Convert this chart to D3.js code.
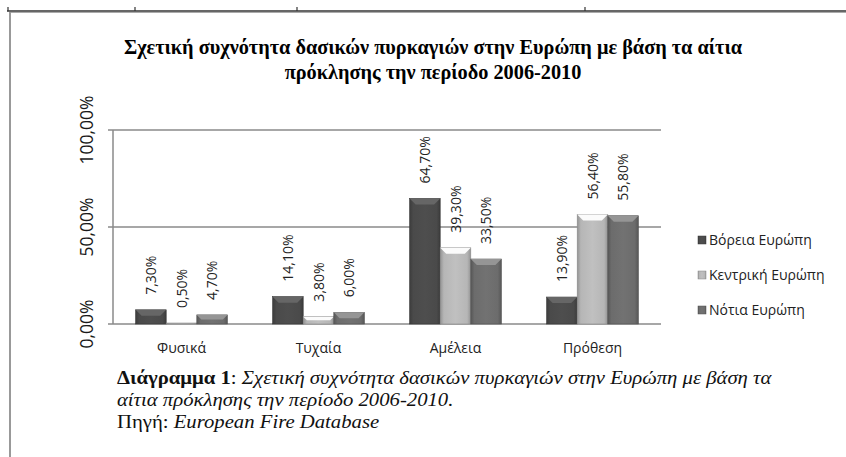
<!DOCTYPE html>
<html><head><meta charset="utf-8">
<script src="https://cdn.jsdelivr.net/npm/d3@7"></script>
<style>body{margin:0;background:#fff}svg{display:block}</style>
</head><body><svg id="c" width="846" height="457"></svg>
<script>
const categories = ["Φυσικά", "Τυχαία", "Αμέλεια", "Πρόθεση"];
const seriesNames = ["Βόρεια Ευρώπη", "Κεντρική Ευρώπη", "Νότια Ευρώπη"];
const northValues = [0.073, 0.141, 0.647, 0.139];
const centralValues = [0.005, 0.038, 0.393, 0.564];
const southValues = [0.047, 0.060, 0.335, 0.558];
const yTicks = [0, 0.5, 1];
const seriesColors = ["#4a4a4a", "#b6b6b6", "#6c6c6c"];

const values = [northValues, centralValues, southValues];
const fmt = v => d3.format(".2f")(v * 100).replace(".", ",") + "%";
const svg = d3.select("#c");

// page frame
svg.append("line").attr("x1", 7).attr("x2", 846).attr("y1", 11).attr("y2", 11).attr("stroke", "#333").attr("stroke-width", 1.5);
svg.append("line").attr("x1", 10).attr("x2", 846).attr("y1", 12.5).attr("y2", 12.5).attr("stroke", "#aaa").attr("stroke-width", 1);
svg.append("line").attr("x1", 10).attr("x2", 10).attr("y1", 12).attr("y2", 457).attr("stroke", "#999").attr("stroke-width", 2);
[8, 135, 297, 585].forEach(x => svg.append("line").attr("x1", x).attr("x2", x).attr("y1", 7).attr("y2", 11).attr("stroke", "#333").attr("stroke-width", 1.2));

// gradients
const defs = svg.append("defs");
seriesColors.forEach((c, i) => {
  const g = defs.append("linearGradient").attr("id", "g" + i).attr("x1", 0).attr("x2", 1).attr("y1", 0).attr("y2", 0);
  const base = d3.color(c);
  g.append("stop").attr("offset", 0).attr("stop-color", base.darker(0.6));
  g.append("stop").attr("offset", 0.12).attr("stop-color", base);
  g.append("stop").attr("offset", 0.5).attr("stop-color", base.brighter(0.15));
  g.append("stop").attr("offset", 0.88).attr("stop-color", base);
  g.append("stop").attr("offset", 1).attr("stop-color", base.darker(0.6));
});

// title
const title = svg.append("text").attr("text-anchor", "middle").attr("font-family", "Liberation Serif, serif").attr("font-weight", "bold").attr("font-size", 20.3).attr("fill", "#000");
title.append("tspan").attr("x", 433).attr("y", 54).text("Σχετική συχνότητα δασικών πυρκαγιών στην Ευρώπη με βάση τα αίτια");
title.append("tspan").attr("x", 433).attr("y", 79).text("πρόκλησης την περίοδο 2006-2010");

// scales
const x0 = d3.scaleBand().domain(categories).range([113, 661]).paddingInner(0.33).paddingOuter(0.165);
const x1 = d3.scaleBand().domain(d3.range(3)).range([0, x0.bandwidth()]);
const y = d3.scaleLinear().domain([0, 1]).range([324, 130]);

// gridlines
svg.append("g").selectAll("line").data(yTicks).join("line")
  .attr("x1", 108).attr("x2", 661).attr("y1", d => y(d)).attr("y2", d => y(d))
  .attr("stroke", "#8a8a8a").attr("stroke-width", 1.5);
svg.append("line").attr("x1", 113).attr("x2", 113).attr("y1", y(1)).attr("y2", y(0)).attr("stroke", "#8a8a8a").attr("stroke-width", 1.5);

// y tick labels
svg.append("g").selectAll("text").data(yTicks).join("text")
  .attr("transform", d => `translate(93,${y(d)}) rotate(-90)`)
  .attr("text-anchor", "middle").attr("font-family", "Open Sans, sans-serif").attr("font-size", 17.5).attr("fill", "#1a1a1a")
  .text(d => fmt(d));

// bars
const groups = svg.append("g").selectAll("g").data(categories).join("g")
  .attr("transform", d => `translate(${x0(d)},0)`);
groups.each(function(cat, ci) {
  const g = d3.select(this);
  values.forEach((vals, si) => {
    const v = vals[ci];
    const bx = x1(si), bw = x1.bandwidth(), by = y(v), bh = y(0) - y(v);
    const base = d3.color(seriesColors[si]);
    g.append("rect").attr("x", bx).attr("y", by).attr("width", bw).attr("height", bh)
      .attr("fill", `url(#g${si})`).attr("stroke", base.darker(0.8)).attr("stroke-width", 0.6);
    const bev = Math.min(6, bh / 2);
    if (bh > 1) {
      g.append("path").attr("d", `M${bx},${by} L${bx + bw},${by} L${bx + bw - bev},${by + bev} L${bx + bev},${by + bev} Z`)
        .attr("fill", base.brighter(0.9));
    }
    g.append("text")
      .attr("transform", `translate(${bx + bw / 2 + 5},${by - 15}) rotate(-90)`)
      .attr("font-family", "Open Sans, sans-serif").attr("font-size", 14).attr("fill", "#222")
      .text(fmt(v));
  });
});

// category labels
svg.append("g").selectAll("text").data(categories).join("text")
  .attr("x", d => x0(d) + x0.bandwidth() / 2).attr("y", 353)
  .attr("text-anchor", "middle").attr("font-family", "Open Sans, sans-serif").attr("font-size", 14).attr("fill", "#222")
  .text(d => d);

// legend
const leg = svg.append("g").selectAll("g").data(seriesNames).join("g")
  .attr("transform", (d, i) => `translate(698,${240 + i * 35})`);
leg.append("rect").attr("x", 0).attr("y", -4).attr("width", 8).attr("height", 8).attr("fill", (d, i) => `url(#g${i})`)
  .attr("stroke", (d, i) => d3.color(seriesColors[i]).darker(0.8)).attr("stroke-width", 0.5);
leg.append("text").attr("x", 11).attr("y", 5).attr("font-family", "Open Sans, sans-serif").attr("font-size", 14).attr("fill", "#222").text(d => d);

// caption (horizontally stretched serif as in the source document)
const cap = svg.append("text").attr("transform", "translate(117,0) scale(1.12,1)")
  .attr("font-family", "Liberation Serif, serif").attr("font-size", 18.5).attr("fill", "#111");
const l1 = cap.append("tspan").attr("x", 0).attr("y", 384);
l1.append("tspan").attr("font-weight", "bold").text("Διάγραμμα 1");
l1.append("tspan").text(": ");
l1.append("tspan").attr("font-style", "italic").text("Σχετική συχνότητα δασικών πυρκαγιών στην Ευρώπη με βάση τα");
cap.append("tspan").attr("x", 0).attr("y", 406).attr("font-style", "italic").text("αίτια πρόκλησης την περίοδο 2006-2010.");
const l3 = cap.append("tspan").attr("x", 0).attr("y", 428);
l3.append("tspan").text("Πηγή: ");
l3.append("tspan").attr("font-style", "italic").text("European Fire Database");
</script></body></html>
